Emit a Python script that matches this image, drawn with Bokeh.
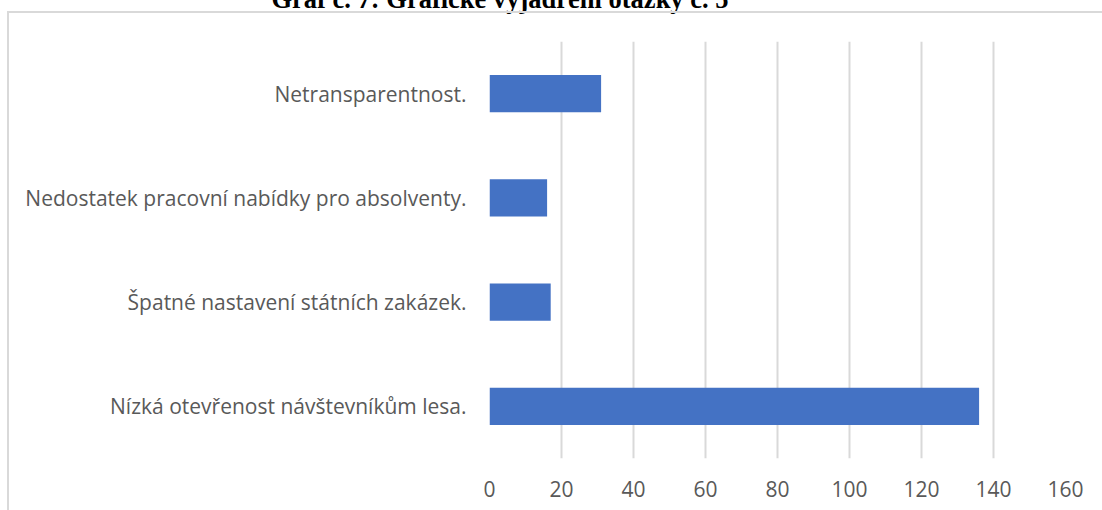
from bokeh.plotting import figure
from bokeh.models import FactorRange, Range1d, FixedTicker, ColumnDataSource
from bokeh.embed import file_html
from bokeh.resources import INLINE

title_text = "Graf č. 7: Grafické vyjádření otázky č. 5"
categories = [
    "Nízká otevřenost návštevníkům lesa.",
    "Špatné nastavení státních zakázek.",
    "Nedostatek pracovní nabídky pro absolventy.",
    "Netransparentnost.",
]
values = [136, 17, 16, 31]
x_ticks = [0, 20, 40, 60, 80, 100, 120, 140, 160]

src = ColumnDataSource(dict(cat=categories, val=values))

frame_css = """
:host { position: relative; }
:host::after {
  content: "";
  position: absolute;
  left: 7px; top: 11px; right: 0px; bottom: 0px;
  border-top: 2px solid #D9D9D9;
  border-left: 2px solid #D9D9D9;
  pointer-events: none;
  z-index: 10;
}
"""

p = figure(
    width=1102, height=510,
    y_range=FactorRange(factors=categories),
    x_range=Range1d(0, 160),
    output_backend="svg", toolbar_location=None,
    min_border_left=489, min_border_right=37,
    min_border_top=41, min_border_bottom=52,
    stylesheets=[frame_css],
)
p.outline_line_color = None

p.title.text = title_text
p.title.align = "left"
p.title.offset = -218
p.title.vertical_align = "top"
p.title.standoff = -115
p.title.text_font = "Liberation Serif"
p.title.text_font_style = "bold"
p.title.text_font_size = "26.5px"
p.title.text_color = "black"

p.hbar(y="cat", left=0, right="val", height=0.355, source=src,
       fill_color="#4472C4", line_color=None)

font = "Open Sans"
for ax in (p.xaxis[0], p.yaxis[0]):
    ax.axis_line_color = None
    ax.major_tick_line_color = None
    ax.minor_tick_line_color = None
    ax.major_label_text_font = font
    ax.major_label_text_font_size = "21px"
    ax.major_label_text_color = "#595959"

p.xaxis.ticker = FixedTicker(ticks=x_ticks)
p.xaxis.major_label_standoff = 16
p.yaxis.major_label_standoff = 17

p.xgrid.ticker = FixedTicker(ticks=x_ticks)
p.xgrid.grid_line_color = "#D9D9D9"
p.xgrid.grid_line_width = 2
p.ygrid.grid_line_color = None

open("out.html", "w").write(file_html(p, INLINE))
